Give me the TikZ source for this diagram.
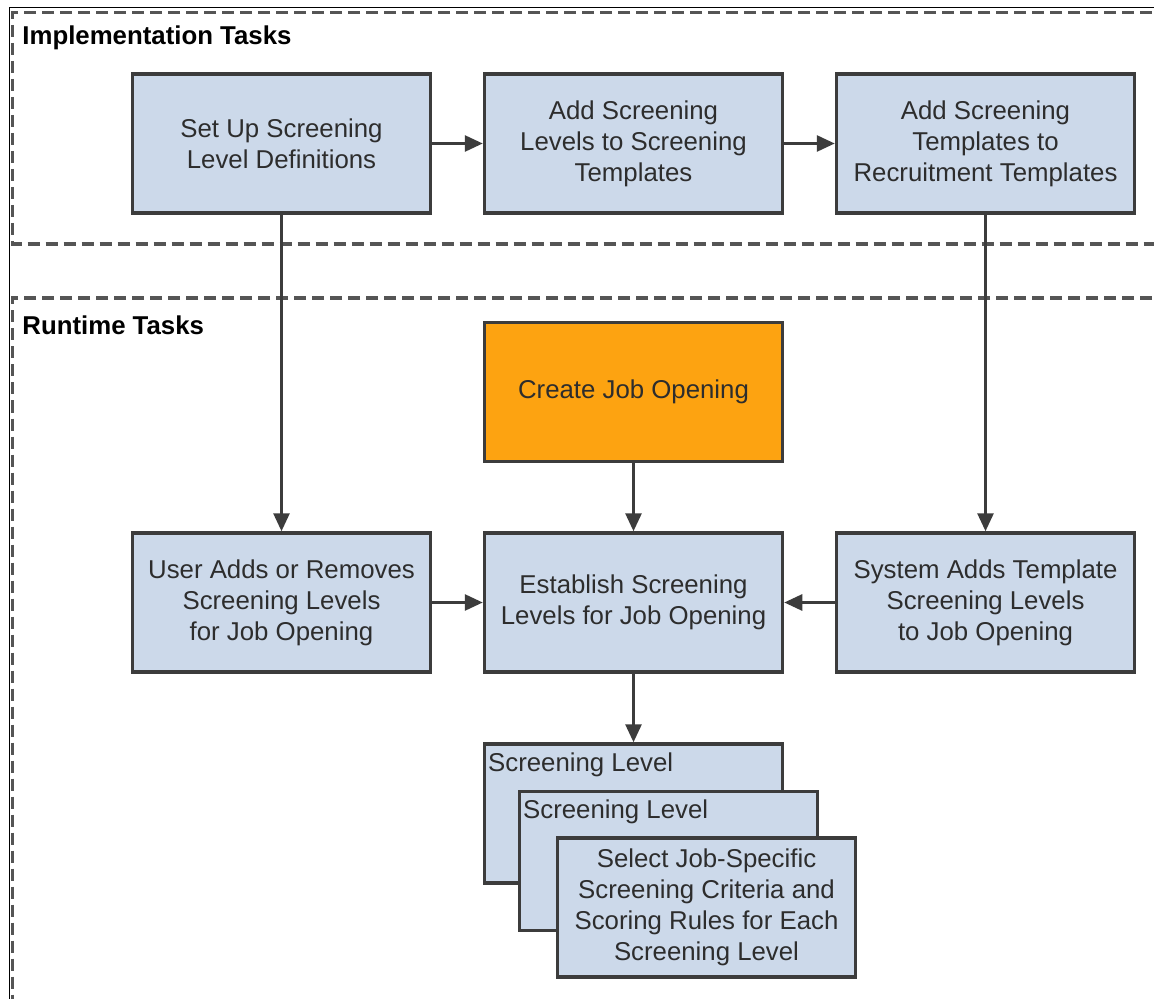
\documentclass[tikz,border=0pt]{standalone}
\usepackage{fontspec}
\setmainfont{Liberation Sans}
\usetikzlibrary{arrows.meta}

\definecolor{boxfill}{RGB}{204,217,234}
\definecolor{boxline}{RGB}{60,60,60}
\definecolor{jobfill}{RGB}{253,163,17}
\definecolor{framegray}{RGB}{85,85,85}
\definecolor{txtgray}{RGB}{45,45,45}

\begin{document}
\begin{tikzpicture}[x=0.5pt,y=-0.5pt,node distance=176pt,
  task/.style={draw=boxline,line width=1.75pt,fill=boxfill,text=txtgray,
    minimum width=149pt,minimum height=69.5pt,align=center,
    font=\fontsize{12.9pt}{15.5pt}\selectfont},
  job/.style={task,fill=jobfill},
  stack/.style={task},
  stacklabel/.style={anchor=north west,inner xsep=2.5pt,inner ysep=5pt,text=txtgray,
    font=\fontsize{12.9pt}{15.5pt}\selectfont},
  frame/.style={draw=framegray,line width=1.6pt,dash pattern=on 6pt off 3pt},
  heading/.style={anchor=west,inner sep=0pt,text=black,
    font=\fontsize{12.9pt}{15.5pt}\selectfont\bfseries},
  arr/.style={draw=boxline,line width=1.4pt,-{Triangle[length=9pt,width=8pt]}}]

\clip (0,0) rectangle (1154,999);
\fill[white] (0,0) rectangle (1154,999);

% frames
\draw[line width=0.5pt] (1160,8) -- (9,8) -- (9,1005);
\draw[frame] (1170,12.5) -- (12.5,12.5) -- (12.5,244) -- (1170,244);
\draw[frame] (1170,298) -- (12.5,298) -- (12.5,1010);
\node (impl) [heading] at (22,38) {Implementation Tasks};
\node (run) [heading] at (22,325) {Runtime Tasks};

% nodes
\node (setup) [task] at (281.5,143.5) {Set Up Screening\\Level Definitions};
\node (addlvl) [task,right of=setup] {Add Screening\\Levels to Screening\\Templates};
\node (addtpl) [task,right of=addlvl] {Add Screening\\Templates to\\Recruitment Templates};
\node (useradds) [task,below of=setup,node distance=229.5pt] {User Adds or Removes\\Screening Levels\\for Job Opening};
\node (establish) [task,right of=useradds] {Establish Screening\\Levels for Job Opening};
\node (sysadds) [task,right of=establish] {System Adds Template\\Screening Levels\\to Job Opening};
\node (create) [job,above of=establish,node distance=105.25pt] {Create Job Opening};
\node (lvla) [stack,below of=establish,node distance=105.5pt,
  label={[stacklabel]north west:Screening Level}] {};
\node (lvlb) [stack,xshift=17.5pt,yshift=-23.75pt,
  label={[stacklabel]north west:Screening Level}] at (lvla) {};
\node (lvlc) [stack,xshift=19pt,yshift=-23.25pt] at (lvlb)
  {Select Job-Specific\\Screening Criteria and\\Scoring Rules for Each\\Screening Level};

% arrows
\draw[arr] (setup) -- (addlvl);
\draw[arr] (addlvl) -- (addtpl);
\draw[arr] (setup) -- (useradds);
\draw[arr] (addtpl) -- (sysadds);
\draw[arr] (create) -- (establish);
\draw[arr] (useradds) -- (establish);
\draw[arr] (sysadds) -- (establish);
\draw[arr] (establish) -- (lvla);
\end{tikzpicture}
\end{document}
